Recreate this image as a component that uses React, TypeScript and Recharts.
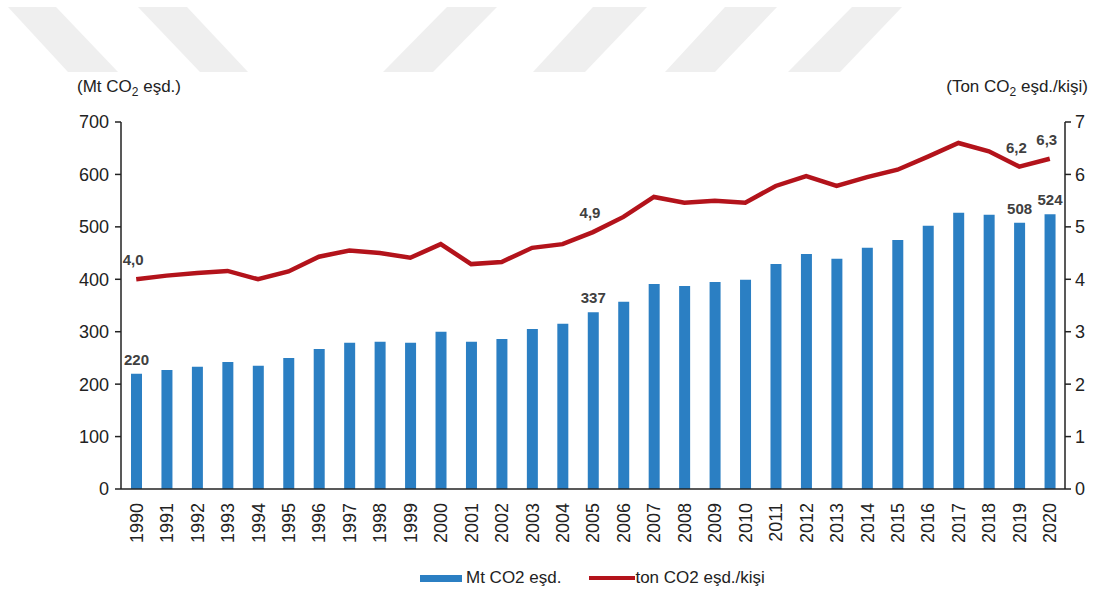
import React from "react"
import { ComposedChart, Bar, Line, XAxis, YAxis, LabelList } from "recharts"

const years = [
  "1990", "1991", "1992", "1993", "1994", "1995", "1996", "1997", "1998", "1999",
  "2000", "2001", "2002", "2003", "2004", "2005", "2006", "2007", "2008", "2009",
  "2010", "2011", "2012", "2013", "2014", "2015", "2016", "2017", "2018", "2019", "2020",
]
const totalMt = [
  220, 227, 233, 242, 235, 250, 267, 279, 281, 279,
  300, 281, 286, 305, 315, 337, 357, 391, 387, 395,
  399, 429, 448, 439, 460, 475, 502, 527, 523, 508, 524,
]
const perCapita = [
  4.0, 4.07, 4.12, 4.16, 4.0, 4.15, 4.43, 4.55, 4.5, 4.41,
  4.67, 4.29, 4.33, 4.6, 4.67, 4.9, 5.19, 5.57, 5.46, 5.5,
  5.46, 5.78, 5.97, 5.78, 5.95, 6.09, 6.34, 6.6, 6.44, 6.15, 6.3,
]
const labelledYears = ["1990", "2005", "2019", "2020"]
const leftTicks = [0, 100, 200, 300, 400, 500, 600, 700]
const rightTicks = [0, 1, 2, 3, 4, 5, 6, 7]

const data = years.map((y, i) => ({ year: y, mt: totalMt[i], ton: perCapita[i] }))

const FONT = "'Liberation Sans', Arial, sans-serif"
const BLUE = "#2b7fc3"
const RED = "#b3131b"

// watermark stripes along the top edge
const stripes = [
  [8, 56, 118, 68],
  [138, 187, 248, 200],
  [447, 497, 433, 383],
  [593, 647, 585, 533],
  [725, 777, 715, 665],
  [852, 902, 840, 788],
]

const XTick = (props: any) => {
  const { x, y, payload } = props
  return (
    <text
      x={x}
      y={y + 6}
      transform={`rotate(-90, ${x}, ${y + 6})`}
      textAnchor="end"
      dy="0.36em"
      fontSize={18}
      fontFamily={FONT}
      fill="#222"
    >
      {payload.value}
    </text>
  )
}

const barLabel = (props: any) => {
  const { x, y, width, index } = props
  if (!labelledYears.includes(years[index])) return null
  return (
    <text x={x + width / 2} y={y - 9} textAnchor="middle" fontSize={15} fontWeight="bold" fontFamily={FONT} fill="#404040">
      {totalMt[index]}
    </text>
  )
}

const lineLabel = (props: any) => {
  const { x, y, index } = props
  if (!labelledYears.includes(years[index])) return null
  return (
    <text x={x - 3} y={y - 14} textAnchor="middle" fontSize={15} fontWeight="bold" fontFamily={FONT} fill="#404040">
      {perCapita[index].toFixed(1).replace(".", ",")}
    </text>
  )
}

export default function App() {
  return (
    <div style={{ position: "absolute", left: 0, top: 0, width: 1093, height: 596, background: "#fff", fontFamily: FONT }}>
      <svg width={1093} height={80} style={{ position: "absolute", left: 0, top: 0 }}>
        {stripes.map((s, i) => (
          <polygon key={i} points={`${s[0]},7 ${s[1]},7 ${s[2]},72 ${s[3]},72`} fill="#efefef" />
        ))}
      </svg>
      <div style={{ position: "absolute", left: 77, top: 77, fontSize: 17, color: "#222" }}>
        (Mt CO<sub style={{ fontSize: 12 }}>2</sub> eşd.)
      </div>
      <div style={{ position: "absolute", right: 5, top: 77, fontSize: 17, color: "#222" }}>
        (Ton CO<sub style={{ fontSize: 12 }}>2</sub> eşd./kişi)
      </div>
      <ComposedChart
        width={1093}
        height={596}
        data={data}
        margin={{ top: 122, right: 0, bottom: 37, left: 60 }}
        barSize={11}
        style={{ position: "absolute", left: 0, top: 0 }}
      >
        <XAxis
          dataKey="year"
          interval={0}
          tickLine={false}
          axisLine={{ stroke: "#222", strokeWidth: 1.5 }}
          height={70}
          tick={<XTick />}
        />
        <YAxis
          yAxisId="left"
          domain={[0, 700]}
          ticks={leftTicks}
          width={61}
          tickSize={6}
          tickMargin={6}
          axisLine={{ stroke: "#222", strokeWidth: 1.5 }}
          tickLine={{ stroke: "#222", strokeWidth: 1.5 }}
          tick={{ fontSize: 18, fill: "#222", fontFamily: FONT }}
        />
        <YAxis
          yAxisId="right"
          orientation="right"
          domain={[0, 7]}
          ticks={rightTicks}
          width={28}
          tickSize={6}
          tickMargin={4}
          axisLine={{ stroke: "#222", strokeWidth: 1.5 }}
          tickLine={{ stroke: "#222", strokeWidth: 1.5 }}
          tick={{ fontSize: 18, fill: "#222", fontFamily: FONT }}
        />
        <Bar yAxisId="left" dataKey="mt" fill={BLUE} isAnimationActive={false}>
          <LabelList dataKey="mt" content={barLabel} />
        </Bar>
        <Line
          yAxisId="right"
          dataKey="ton"
          type="linear"
          stroke={RED}
          strokeWidth={4.5}
          dot={false}
          isAnimationActive={false}
        >
          <LabelList dataKey="ton" content={lineLabel} />
        </Line>
      </ComposedChart>
      <div style={{ position: "absolute", left: 420, top: 568, display: "flex", alignItems: "center", fontSize: 17, color: "#222" }}>
        <span style={{ display: "inline-block", width: 42, height: 7, background: BLUE, marginRight: 4 }} />
        <span>Mt CO2 eşd.</span>
        <span style={{ display: "inline-block", width: 46, height: 4, background: RED, marginLeft: 28 }} />
        <span>ton CO2 eşd./kişi</span>
      </div>
    </div>
  )
}
